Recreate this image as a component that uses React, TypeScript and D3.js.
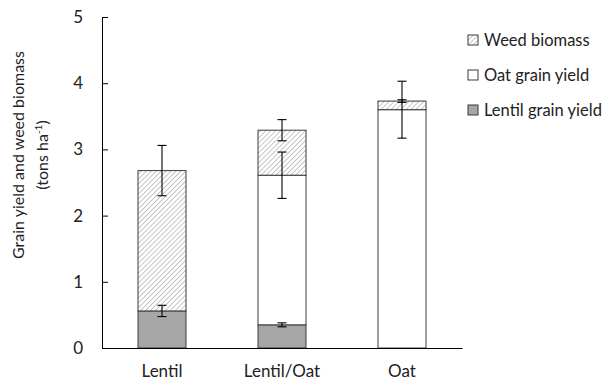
import React, { useEffect, useRef } from "react";
import * as d3 from "d3";

// categories and stacked values (tons ha-1)
const categories = ["Lentil", "Lentil/Oat", "Oat"];
const lentilYield = [0.56, 0.35, 0];
const oatYield = [0, 2.26, 3.6];
const weedBiomass = [2.12, 0.68, 0.13];
// error bars (± values) for each segment
const lentilErr = [0.085, 0.03, 0];
const oatErr = [0, 0.35, 0.43];
const weedErr = [0.38, 0.16, 0.02];
const yTicks = [0, 1, 2, 3, 4, 5];
const legendLabels = ["Weed biomass", "Oat grain yield", "Lentil grain yield"];

const FONT = "Lato, 'Open Sans', sans-serif";

export default function App() {
  const ref = useRef<SVGSVGElement>(null);

  useEffect(() => {
    const svg = d3.select(ref.current);
    svg.selectAll("*").remove();

    const margin = { top: 17, left: 102, right: 153, bottom: 33 };
    const width = 615, height = 381;

    const x = d3.scaleBand()
      .domain(categories)
      .range([margin.left, width - margin.right])
      .paddingInner(0.6)
      .paddingOuter(0.3);

    const y = d3.scaleLinear()
      .domain([0, 5])
      .range([height - margin.bottom, margin.top]);

    // hatch pattern for weeds
    const defs = svg.append("defs");
    const pat = defs.append("pattern")
      .attr("id", "hatch")
      .attr("patternUnits", "userSpaceOnUse")
      .attr("width", 3.5)
      .attr("height", 3.5)
      .attr("patternTransform", "rotate(45)");
    pat.append("rect").attr("width", 3.5).attr("height", 3.5).attr("fill", "#fff");
    pat.append("line")
      .attr("x1", 0).attr("y1", 0).attr("x2", 0).attr("y2", 3.5)
      .attr("stroke", "#a0a0a0").attr("stroke-width", 1.2);

    const fills = { lentil: "#a6a6a6", oat: "#ffffff", weed: "url(#hatch)" };

    // stack segments
    const segs: { cat: string; y0: number; y1: number; fill: string; err: number }[] = [];
    categories.forEach((c, i) => {
      let base = 0;
      const parts = [
        { v: lentilYield[i], fill: fills.lentil, err: lentilErr[i] },
        { v: oatYield[i], fill: fills.oat, err: oatErr[i] },
        { v: weedBiomass[i], fill: fills.weed, err: weedErr[i] },
      ];
      parts.forEach(p => {
        if (p.v > 0) {
          segs.push({ cat: c, y0: base, y1: base + p.v, fill: p.fill, err: p.err });
          base += p.v;
        }
      });
    });

    svg.append("g").selectAll("rect")
      .data(segs)
      .enter()
      .append("rect")
      .attr("x", d => x(d.cat)!)
      .attr("width", x.bandwidth())
      .attr("y", d => y(d.y1))
      .attr("height", d => y(d.y0) - y(d.y1))
      .attr("fill", d => d.fill)
      .attr("stroke", "#3a3a3a")
      .attr("stroke-width", 1);

    // error bars
    const eb = svg.append("g").attr("stroke", "#000").attr("stroke-width", 1.1);
    segs.filter(d => d.err > 0).forEach(d => {
      const cx = x(d.cat)! + x.bandwidth() / 2;
      const hi = y(d.y1 + d.err), lo = y(d.y1 - d.err);
      eb.append("line").attr("x1", cx).attr("x2", cx).attr("y1", hi).attr("y2", lo);
      eb.append("line").attr("x1", cx - 4.5).attr("x2", cx + 4.5).attr("y1", hi).attr("y2", hi);
      eb.append("line").attr("x1", cx - 4.5).attr("x2", cx + 4.5).attr("y1", lo).attr("y2", lo);
    });

    // axes
    const yAxis = svg.append("g")
      .attr("transform", `translate(${margin.left},0)`)
      .call(d3.axisLeft(y).tickValues(yTicks).tickFormat(d3.format("d")).tickSizeInner(-6).tickSizeOuter(0).tickPadding(19));
    yAxis.select(".domain").attr("stroke", "#000");
    yAxis.selectAll(".tick line").attr("stroke", "#000");
    yAxis.selectAll("text")
      .attr("font-family", FONT)
      .attr("font-size", 17)
      .attr("fill", "#222");

    const xAxis = svg.append("g")
      .attr("transform", `translate(0,${height - margin.bottom})`)
      .call(d3.axisBottom(x).tickSize(0).tickPadding(17));
    xAxis.select(".domain").attr("stroke", "#000");
    xAxis.selectAll("text")
      .attr("font-family", FONT)
      .attr("font-size", 17)
      .attr("fill", "#222");

    // y title
    const title = svg.append("text")
      .attr("transform", "translate(24,155) rotate(-90)")
      .attr("text-anchor", "middle")
      .attr("font-family", FONT)
      .attr("font-size", 16)
      .attr("fill", "#222");
    title.append("tspan").attr("x", 0).attr("dy", 0).text("Grain yield and weed biomass");
    const t2 = title.append("tspan").attr("x", 0).attr("dy", 24).text("(tons ha");
    t2.append("tspan").attr("dy", -6).attr("font-size", 10).text("-1");
    title.append("tspan").attr("dy", 6).text(")");

    // legend
    const legendFills = [fills.weed, fills.oat, fills.lentil];
    const lg = svg.append("g").attr("transform", "translate(468,0)");
    legendLabels.forEach((l, i) => {
      const cy = 40 + i * 35;
      lg.append("rect")
        .attr("x", 0).attr("y", cy - 5).attr("width", 10).attr("height", 10)
        .attr("fill", legendFills[i])
        .attr("stroke", "#3a3a3a");
      lg.append("text")
        .attr("x", 16).attr("y", cy)
        .attr("dy", "0.35em")
        .attr("font-family", FONT)
        .attr("font-size", 16.5)
        .attr("fill", "#222")
        .text(l);
    });
  }, []);

  return (
    <svg ref={ref} width={615} height={381}
      style={{ position: "absolute", left: 0, top: 0, background: "#fff" }} />
  );
}
